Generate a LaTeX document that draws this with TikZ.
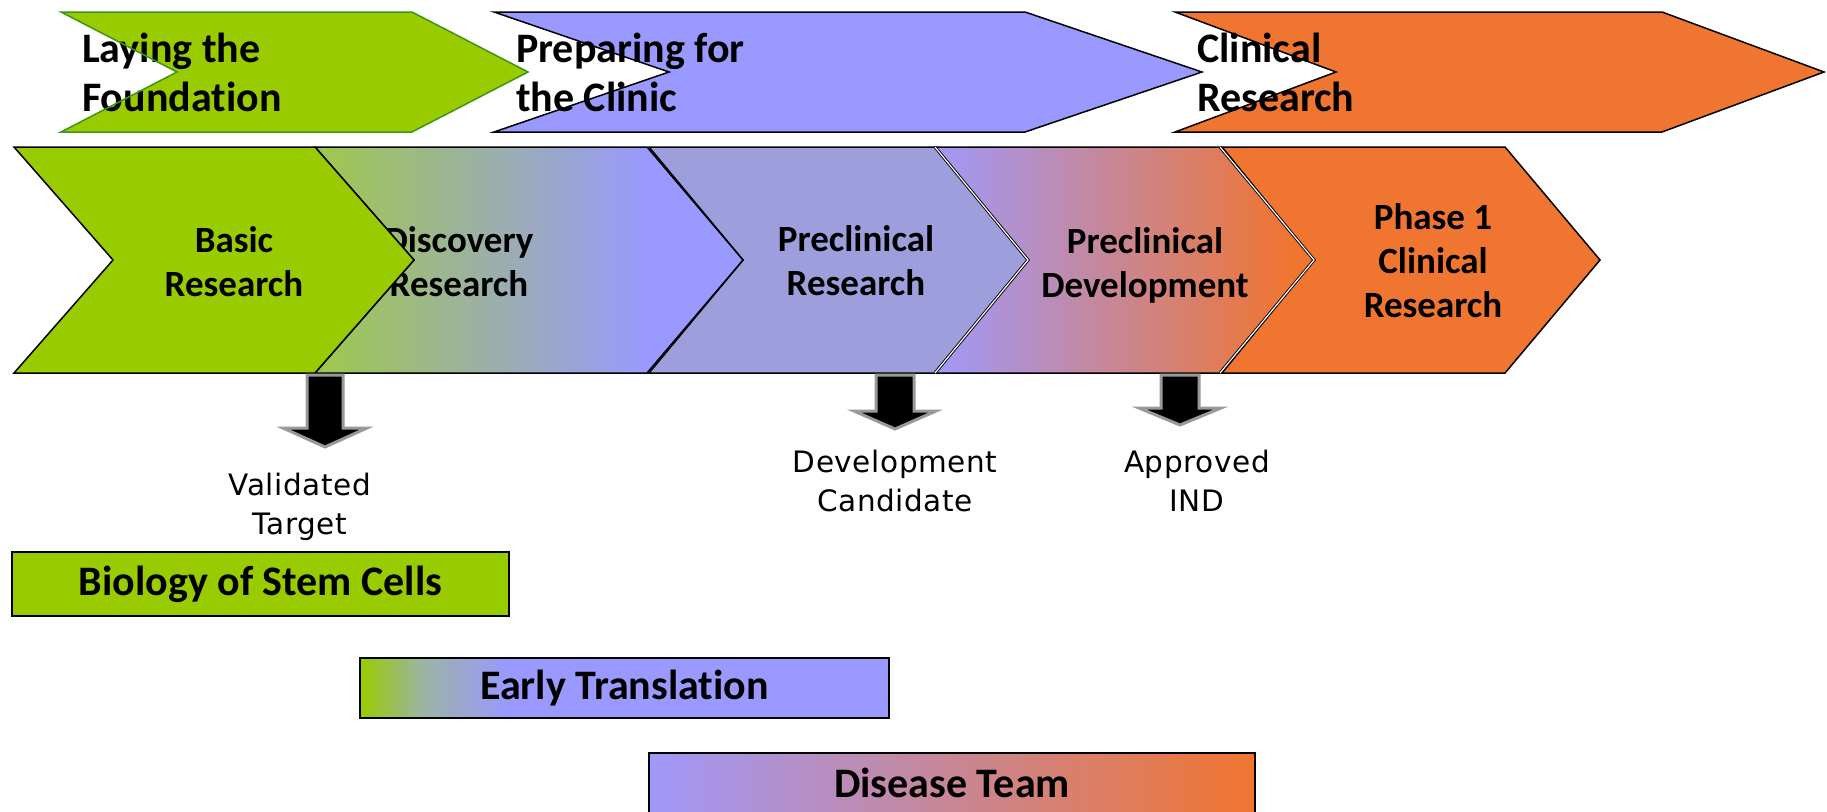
\documentclass[tikz,border=0pt]{standalone}
\usepackage{fontspec}
\setmainfont[Ligatures=NoCommon]{Carlito}
\newfontfamily\lblfont[LetterSpace=2]{DejaVu Sans}
\definecolor{grn}{RGB}{153,204,0}
\definecolor{grnedge}{RGB}{60,150,20}
\definecolor{purp}{RGB}{153,153,255}
\definecolor{purpdev}{RGB}{160,152,250}
\definecolor{prres}{RGB}{158,158,220}
\definecolor{orng}{RGB}{240,117,48}
\definecolor{lgrn}{RGB}{158,200,75}
\definecolor{gry}{RGB}{153,153,153}
\definecolor{tealgray}{RGB}{155,180,165}
\pgfdeclarehorizontalshading{discsh}{100bp}{color(0bp)=(lgrn); color(25bp)=(lgrn); color(64bp)=(purp); color(100bp)=(purp)}
\pgfdeclarehorizontalshading{devsh}{100bp}{color(0bp)=(purpdev); color(25bp)=(purpdev); color(72bp)=(orng); color(100bp)=(orng)}
\pgfdeclarehorizontalshading{earlysh}{100bp}{color(0bp)=(grn); color(25bp)=(grn); color(31bp)=(tealgray); color(39bp)=(purp); color(100bp)=(purp)}
\pgfdeclarehorizontalshading{diseasesh}{100bp}{color(0bp)=(purpdev); color(25bp)=(purpdev); color(75bp)=(orng); color(100bp)=(orng)}
\tikzset{
  toptxt/.style={font=\fontsize{42}{49}\selectfont\bfseries, align=left, inner sep=0pt, anchor=west},
  chtxt/.style={font=\fontsize{37}{44}\selectfont\bfseries, align=center, inner sep=0pt},
  lbltxt/.style={font=\lblfont\fontsize{29.5}{39.5}\selectfont, align=center, inner sep=0pt},
  chedge/.style={draw=black, line width=1.5pt, line join=miter},
  dbledge/.style={draw=black, double=white, double distance=1.2pt, line width=0.9pt},
  blockarr/.style={fill=black, draw=gry, line width=3pt, line join=miter},
  bar/.style={draw=black, line width=2pt, inner sep=0pt, font=\fontsize{42}{49}\selectfont\bfseries}
}
\begin{document}
\begin{tikzpicture}[x=1pt,y=-1pt]
\useasboundingbox (0,0) rectangle (1827,811);
% ---------- top row ----------
\fill[grn] (61,12) -- (412,12) -- (528,72) -- (412,132) -- (61,132) -- (177,72) -- cycle;
\fill[purp] (494,12) -- (1025,12) -- (1202,72) -- (1025,132) -- (494,132) -- (669,72) -- cycle;
\fill[orng] (1175,12) -- (1662,12) -- (1824,72) -- (1662,132) -- (1175,132) -- (1336,72) -- cycle;
\node[toptxt] (lay) at (82,72) {Laying the\\Foundation};
\node[toptxt] (prep) at (516,72) {Preparing for\\the Clinic};
\node[toptxt] (clin) at (1197,72) {Clinical\\Research};
\draw[grnedge, line width=1.5pt] (61,12) -- (412,12) -- (528,72) -- (412,132) -- (61,132) -- (177,72) -- cycle;
\draw[chedge] (494,12) -- (1025,12) -- (1202,72) -- (1025,132) -- (494,132) -- (669,72) -- cycle;
\draw[chedge] (1175,12) -- (1662,12) -- (1824,72) -- (1662,132) -- (1175,132) -- (1336,72) -- cycle;
% ---------- main chevrons ----------
\filldraw[fill=orng, chedge] (1222,147) -- (1505,147) -- (1600,260) -- (1505,373) -- (1222,373) -- (1314,260) -- cycle;
\node[chtxt] (ph1) at (1433,261) {Phase 1\\Clinical\\Research};
\shadedraw[shading=devsh, chedge] (935,147) -- (1220,147) -- (1314,260) -- (1220,373) -- (935,373) -- (1028,260) -- cycle;
\draw[dbledge] (1220,147) -- (1314,260) -- (1220,373);
\node[chtxt] (pdev) at (1145,265) {Preclinical\\Development};
\filldraw[fill=prres, chedge] (649,147) -- (935,147) -- (1028,260) -- (935,373) -- (649,373) -- (743,260) -- cycle;
\draw[dbledge] (935,147) -- (1028,260) -- (935,373);
\node[chtxt] (pres) at (856,261) {Preclinical\\Research};
\shadedraw[shading=discsh, chedge] (315,147) -- (647,147) -- (743,260) -- (647,373) -- (315,373) -- (414,260) -- cycle;
\node[chtxt] (disc) at (459,262) {Discovery\\Research};
\filldraw[fill=grn, chedge] (14,147) -- (315,147) -- (414,260) -- (315,373) -- (14,373) -- (113,260) -- cycle;
\node[chtxt] (basic) at (234,262) {Basic\\Research};
% ---------- block arrows ----------
\draw[blockarr] (307,375) -- (307,428) -- (283,428) -- (325,447) -- (367,428) -- (343,428) -- (343,375) -- cycle;
\draw[blockarr] (876,375) -- (876,411) -- (854,411) -- (895,429) -- (936,411) -- (914,411) -- (914,375) -- cycle;
\draw[blockarr] (1161,375) -- (1161,408) -- (1139,408) -- (1180,425) -- (1221,408) -- (1199,408) -- (1199,375) -- cycle;
\node[lbltxt] (valid) at (300,507) {Validated\\Target};
\node[lbltxt] (devc) at (895,481) {Development\\Candidate};
\node[lbltxt] (ind) at (1197,481) {Approved\\IND};
% ---------- bars ----------
\node[bar, fill=grn, minimum width=497pt, minimum height=64pt] (bio) at (260.5,584) {Biology of Stem Cells};
\node[bar, shade, shading=earlysh, minimum width=529pt, minimum height=60pt] (early) at (624.5,688) {Early Translation};
\node[bar, shade, shading=diseasesh, minimum width=606pt, minimum height=60pt] (dis) at (952,783) {Disease Team};
\end{tikzpicture}
\end{document}
